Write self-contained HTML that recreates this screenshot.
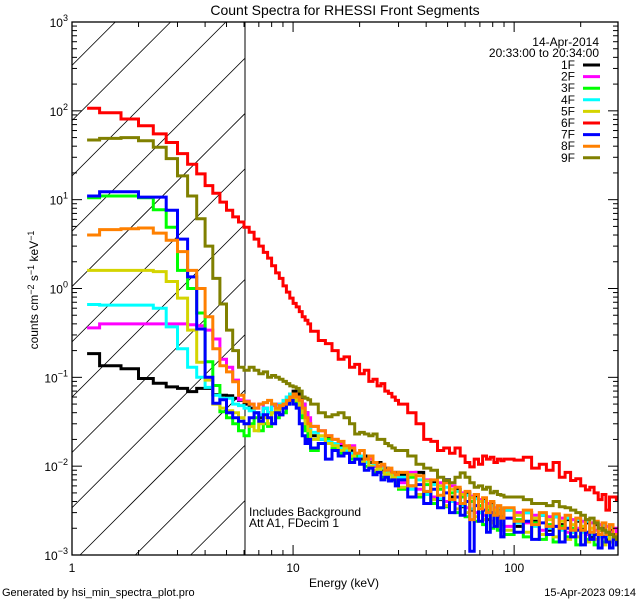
<!DOCTYPE html>
<html><head><meta charset="utf-8"><style>
html,body{margin:0;padding:0;background:#fff;}
svg{display:block;font-family:"Liberation Sans",sans-serif;}
</style></head><body>
<svg id="chart" width="640" height="600" viewBox="0 0 640 600" xmlns="http://www.w3.org/2000/svg">
<defs><clipPath id="plotClip"><rect x="72" y="22" width="546" height="533"/></clipPath>
<clipPath id="hatchClip"><rect x="72" y="22" width="173" height="533"/></clipPath></defs>
<text x="345" y="15" font-size="14" text-anchor="middle">Count Spectra for RHESSI Front Segments</text>
<g id="hatch" clip-path="url(#hatchClip)"></g>
<line x1="245" y1="22" x2="245" y2="555" stroke="#000" stroke-width="1"/>
<g id="series" clip-path="url(#plotClip)"></g>
<rect x="72" y="22" width="546" height="533" fill="none" stroke="#000" stroke-width="1.3"/>
<g id="axes"></g>
<text transform="translate(38,290) rotate(-90)" font-size="12" text-anchor="middle">counts cm<tspan dy="-4" font-size="9">−2</tspan><tspan dy="4"> s</tspan><tspan dy="-4" font-size="9">−1</tspan><tspan dy="4"> keV</tspan><tspan dy="-4" font-size="9">−1</tspan></text>
<text x="344" y="587" font-size="12" text-anchor="middle">Energy (keV)</text>
<text x="599" y="46" font-size="12" text-anchor="end">14-Apr-2014</text>
<text x="599" y="57" font-size="12" text-anchor="end">20:33:00 to 20:34:00</text>
<text x="249" y="516" font-size="12">Includes Background</text>
<text x="249" y="527" font-size="12">Att A1, FDecim 1</text>
<text x="2" y="596" font-size="11">Generated by hsi_min_spectra_plot.pro</text>
<text x="636" y="596" font-size="11" text-anchor="end">15-Apr-2023 09:14</text>
<g id="legend"></g>
</svg>
<script>
const seriesNames=["1F","2F","3F","4F","5F","6F","7F","8F","9F"];
const seriesColors=["#000000","#ff00ff","#00ff00","#00ffff","#d4d400","#ff0000","#0000ff","#ff8000","#808000"];
const xTicks=[1,10,100];
const xTickLabels=["1","10","100"];
const yDecades=[-3,-2,-1,0,1,2,3];
const s1F=[0.185,0.135,0.125,0.097,0.086,0.078,0.075,0.069,0.075,0.075,0.064,0.063,0.062,0.058,0.055,
0.05,0.045,0.04,0.035,0.045,0.04,0.05,0.042,0.038,0.05,0.06,0.065,0.07,0.065,0.06,0.05,0.04,0.03,
0.022,0.02,0.021,0.018,0.017,0.016,0.015,0.013,0.012,0.013,0.011,0.01,0.011,0.009,0.0095,0.0085,0.008,0.0085,
0.008,0.006,0.0085,0.005,0.0065,0.0042,0.007,0.0045,0.0055,0.0035,0.005,0.0032,0.0045,0.003,0.0042,0.0025,0.0038,0.0028,0.0033,0.0022,
0.0032,0.0021,0.003,0.0024,0.0028,0.0019,0.0027,0.0022,0.0025,0.0018,0.0024,0.002,0.0023,0.0016,0.0022,0.0019,0.002,0.0015,0.0019,0.0017,0.0016];
const s2F=[0.36,0.40,0.40,0.40,0.40,0.40,0.40,0.39,0.38,0.34,0.27,0.16,0.13,0.093,0.056,
0.054,0.05,0.045,0.05,0.045,0.04,0.048,0.05,0.045,0.05,0.055,0.06,0.065,0.06,0.055,0.05,0.04,0.035,
0.028,0.025,0.022,0.02,0.018,0.016,0.017,0.014,0.013,0.011,0.012,0.01,0.0095,0.01,0.0085,0.009,0.0075,0.008,
0.0065,0.0085,0.0055,0.007,0.0045,0.0065,0.004,0.006,0.0038,0.005,0.0034,0.0046,0.003,0.0042,0.0028,0.0038,0.0024,0.0034,0.0026,0.0031,
0.0021,0.003,0.0023,0.0028,0.0019,0.0027,0.0021,0.0026,0.0018,0.0025,0.002,0.0024,0.0017,0.0023,0.0019,0.0022,0.0016,0.0021,0.0018,0.002,0.0017];
const s3F=[10.5,11,11,10.5,7.7,4.9,1.6,1.0,0.53,0.15,0.081,0.041,0.035,0.03,0.025,
0.022,0.03,0.035,0.025,0.03,0.028,0.04,0.035,0.045,0.04,0.05,0.055,0.06,0.05,0.045,0.035,0.025,0.02,
0.015,0.018,0.02,0.016,0.014,0.015,0.012,0.013,0.011,0.01,0.0095,0.0085,0.009,0.0075,0.008,0.007,0.0072,0.0065,
0.0055,0.0075,0.0045,0.0062,0.0038,0.0055,0.0035,0.005,0.003,0.0045,0.0027,0.004,0.0024,0.0036,0.0022,0.0032,0.002,0.0029,0.0019,0.0027,
0.0017,0.0025,0.0016,0.0023,0.0015,0.0022,0.0014,0.0021,0.0016,0.002,0.0013,0.0019,0.0015,0.0018,0.0013,0.0017,0.0014,0.0016,0.0012,0.0015,0.0013];
const s4F=[0.66,0.65,0.65,0.65,0.6,0.37,0.21,0.13,0.1,0.077,0.063,0.058,0.058,0.05,0.048,
0.045,0.042,0.04,0.038,0.045,0.04,0.05,0.045,0.05,0.055,0.06,0.065,0.062,0.058,0.05,0.04,0.032,0.028,
0.024,0.02,0.019,0.018,0.016,0.015,0.014,0.012,0.013,0.011,0.01,0.0105,0.009,0.0095,0.0085,0.008,0.0078,0.0072,
0.0075,0.0055,0.007,0.0048,0.0062,0.0043,0.0058,0.004,0.0052,0.0036,0.0047,0.0033,0.0043,0.003,0.004,0.0028,0.0036,0.0026,0.0034,0.0024,
0.0032,0.0023,0.003,0.0021,0.0028,0.002,0.0027,0.0019,0.0026,0.0018,0.0025,0.0018,0.0024,0.0017,0.0023,0.0016,0.0022,0.0016,0.0021,0.0015,0.0016];
const s5F=[1.6,1.6,1.6,1.6,1.55,1.2,0.78,0.34,0.148,0.093,0.05,0.045,0.042,0.04,0.035,
0.03,0.028,0.025,0.03,0.035,0.03,0.04,0.042,0.045,0.05,0.055,0.06,0.058,0.055,0.048,0.04,0.03,0.025,
0.02,0.022,0.018,0.017,0.015,0.016,0.013,0.012,0.011,0.012,0.01,0.009,0.0095,0.0085,0.008,0.0082,0.0075,0.007,
0.0058,0.008,0.0048,0.0068,0.0042,0.006,0.0036,0.0055,0.0033,0.0048,0.003,0.0044,0.0027,0.004,0.0025,0.0035,0.0023,0.0032,0.0021,0.003,
0.0019,0.0028,0.0018,0.0026,0.0017,0.0025,0.0016,0.0024,0.0015,0.0022,0.0016,0.0021,0.0014,0.002,0.0015,0.0019,0.0013,0.0018,0.0014,0.0016,0.0014];
const s6F=[107,95,81,68,55,44,33,25,19.5,14.4,11.8,9.4,7.6,6.4,5.6,4.9,4.3,3.6,3.0,2.55,2.2,1.8,1.5,1.3,1.07,0.91,0.78,0.68,0.62,0.55,0.48,0.44,0.4,
0.33,0.26,0.24,0.2,0.16,0.17,0.13,0.14,0.11,0.12,0.09,0.095,0.08,0.085,0.07,0.066,0.06,0.055,
0.05,0.04,0.03,0.02,0.019,0.015,0.016,0.014,0.016,0.013,0.011,0.0098,0.012,0.0105,0.013,0.012,0.0126,0.011,0.012,0.0115,
0.012,0.0117,0.0126,0.0095,0.0105,0.009,0.011,0.0075,0.0085,0.0069,0.0072,0.006,0.0054,0.0058,0.005,0.0042,0.0048,0.0032,0.0045,0.0045,0.0042];
const s7F=[11,12.3,12.3,10.7,10.7,7.6,3.6,1.35,0.35,0.1,0.051,0.056,0.04,0.035,0.032,
0.03,0.035,0.04,0.032,0.038,0.035,0.03,0.04,0.038,0.045,0.05,0.055,0.05,0.045,0.03,0.022,0.018,0.02,
0.016,0.018,0.012,0.015,0.013,0.014,0.011,0.012,0.0105,0.009,0.0095,0.008,0.0085,0.007,0.0075,0.0068,0.007,0.006,
0.007,0.0045,0.0062,0.0038,0.0055,0.0034,0.005,0.003,0.0045,0.0028,0.004,0.0011,0.0036,0.0024,0.0032,0.0018,0.003,0.0021,0.0027,0.0016,
0.0026,0.0018,0.0024,0.0015,0.0023,0.0017,0.0021,0.0014,0.002,0.0016,0.0019,0.0013,0.0018,0.0015,0.0017,0.0012,0.0016,0.0014,0.0012,0.0015,0.0013];
const s8F=[4.0,4.6,4.7,4.8,4.2,3.5,2.6,1.6,1.0,0.48,0.21,0.135,0.115,0.089,0.063,
0.053,0.05,0.045,0.05,0.052,0.055,0.05,0.045,0.048,0.05,0.055,0.06,0.065,0.06,0.055,0.045,0.035,0.03,
0.028,0.025,0.022,0.02,0.019,0.017,0.016,0.014,0.015,0.012,0.013,0.011,0.01,0.0105,0.009,0.0095,0.0085,0.008,
0.0085,0.006,0.0078,0.0052,0.007,0.0047,0.0065,0.0042,0.0058,0.0038,0.0052,0.0025,0.0048,0.0033,0.0044,0.003,0.004,0.0028,0.0036,0.0026,
0.0034,0.0024,0.0032,0.0022,0.003,0.0021,0.0029,0.002,0.0028,0.0019,0.0026,0.0019,0.0025,0.0018,0.0024,0.0017,0.0023,0.0017,0.0022,0.0016,0.0017];
const s9F=[47,49,50,46,39,29,18.5,11,6.1,3.0,1.3,0.67,0.34,0.2,0.13,0.12,
0.13,0.12,0.11,0.115,0.1,0.105,0.1,0.095,0.09,0.085,0.08,0.078,0.075,0.07,0.06,0.058,0.056,
0.05,0.04,0.036,0.038,0.04,0.035,0.03,0.023,0.024,0.023,0.022,0.023,0.02,0.02,0.018,0.017,0.016,0.015,
0.015,0.013,0.0105,0.0095,0.009,0.0075,0.0069,0.0065,0.0075,0.0084,0.0075,0.0065,0.0058,0.006,0.0055,0.0058,0.005,0.0052,0.0048,0.0047,
0.0045,0.0045,0.0042,0.0038,0.0038,0.0036,0.004,0.0035,0.0034,0.0032,0.003,0.0028,0.0025,0.0026,0.0023,0.002,0.0019,0.0018,0.0017,0.0016,0.0015];
const seriesValues=[s1F,s2F,s3F,s4F,s5F,s6F,s7F,s8F,s9F];
// energy bin edges (keV)
const energyEdges=[1.17];
for(let k=4;k<=36;k++) energyEdges.push(k/3);
for(let e=13;e<=30;e++) energyEdges.push(e);
for(let e=33;e<=90;e+=3) energyEdges.push(e);
for(let e=100;e<=290;e+=10) energyEdges.push(e);
energyEdges.push(295);

const NS="http://www.w3.org/2000/svg";
const X0=72,X1=618,Y0=22,Y1=555;
const XMIN=0,XMAX=Math.log10(295);
const YMIN=-3,YMAX=3;
function xs(e){return X0+(Math.log10(e)-XMIN)/(XMAX-XMIN)*(X1-X0);}
function ys(v){return Y1-(Math.log10(v)-YMIN)/(YMAX-YMIN)*(Y1-Y0);}
function mk(tag,attrs,parent){const el=document.createElementNS(NS,tag);for(const k in attrs)el.setAttribute(k,attrs[k]);parent.appendChild(el);return el;}

// hatch
const hatch=document.getElementById('hatch');
for(let b=-500;b<=250;b+=55.3){
  const ln=mk('line',{x1:b+27,y1:Y1,x2:b+27+(Y1-Y0),y2:Y0,stroke:'#000','stroke-width':0.8},hatch);
  
  
}

// axes
const axes=document.getElementById('axes');
for(let d=0;d<=2;d++){
  for(let m=1;m<=9;m++){
    const e=m*Math.pow(10,d); if(e>295) break;
    const x=xs(e); const L=(m===1)?10:5;
    const t1=mk('line',{x1:x,y1:Y1,x2:x,y2:Y1-L,stroke:'#000','stroke-width':1},axes);
    
    
    const t2=mk('line',{x1:x,y1:Y0,x2:x,y2:Y0+L,stroke:'#000','stroke-width':1},axes);
    
    
  }
}
xTicks.forEach((v,i)=>{
  const t=mk('text',{x:xs(v),y:Y1+17,'font-size':12,'text-anchor':'middle'},axes);
  t.textContent=xTickLabels[i];
  
  
});
yDecades.forEach(d=>{
  for(let m=1;m<=9;m++){
    if(d===3&&m>1) break;
    const v=m*Math.pow(10,d); const y=ys(v); const L=(m===1)?10:5;
    const t1=mk('line',{x1:X0,y1:y,x2:X0+L,y2:y,stroke:'#000','stroke-width':1},axes);
    
    
    const t2=mk('line',{x1:X1,y1:y,x2:X1-L,y2:y,stroke:'#000','stroke-width':1},axes);
    
    
  }
  const t=mk('text',{x:X0-4,y:ys(Math.pow(10,d))+5,'font-size':12,'text-anchor':'end'},axes);
  
  
  const a=document.createElementNS(NS,'tspan');a.textContent='10';t.appendChild(a);
  const b=document.createElementNS(NS,'tspan');b.setAttribute('dy','-6');b.setAttribute('font-size','9');b.textContent=(d<0?'−':'')+Math.abs(d);t.appendChild(b);
});

// series
const sg=document.getElementById('series');
seriesValues.forEach((vals,si)=>{
  let d='';
  for(let i=0;i<vals.length;i++){
    const xa=xs(energyEdges[i]),xb=xs(energyEdges[i+1]),y=ys(vals[i]);
    d+=(i===0?'M':'L')+xa.toFixed(1)+','+y.toFixed(1)+'H'+xb.toFixed(1);
  }
  const p=mk('path',{d:d,fill:'none',stroke:seriesColors[si],'stroke-width':3,'stroke-linejoin':'miter'},sg);
  
  
});

// legend
const lg=document.getElementById('legend');
seriesNames.forEach((n,i)=>{
  const y=65+i*11.6;
  const t=mk('text',{x:575,y:y+4,'font-size':12,'text-anchor':'end'},lg);
  t.textContent=n;
  
  
  const l=mk('line',{x1:583,y1:y,x2:600,y2:y,stroke:seriesColors[i],'stroke-width':3},lg);
  
  
});
</script>
</body></html>
